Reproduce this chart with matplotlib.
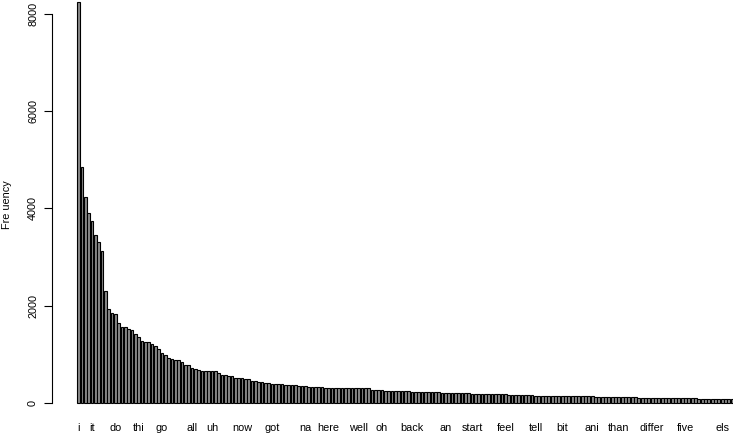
import matplotlib
matplotlib.use("Agg")
import matplotlib.pyplot as plt

plt.rcParams['font.family'] = ['Liberation Sans', 'DejaVu Sans']

# word frequencies, sorted (rightmost bars are cut off)
freq = [8240, 4860, 4230, 3910, 3740, 3450, 3310, 3120, 2300, 1930,
        1845, 1825, 1650, 1560, 1555, 1515, 1510, 1410, 1350, 1275,
        1260, 1245, 1210, 1165, 1115, 1035, 995, 930, 900, 885,
        880, 845, 780, 775, 720, 705, 680, 665, 662, 658,
        655, 650, 618, 582, 570, 562, 558, 515, 508, 504,
        497, 490, 452, 446, 440, 437, 405, 402, 398, 396,
        393, 390, 365, 363, 362, 360, 358, 342, 340, 338,
        336, 334, 320, 319, 318, 317, 316, 315, 314, 313,
        312, 304, 303, 302, 301, 300, 299, 298, 276, 274,
        272, 270, 250, 248, 247, 246, 245, 244, 243, 242,
        228, 227, 226, 225, 224, 223, 218, 217, 216, 215,
        214, 213, 201, 200, 199, 198, 197, 196, 195, 185,
        183, 182, 181, 180, 179, 178, 177, 176, 175, 172,
        171, 170, 169, 168, 167, 166, 165, 152, 151, 150,
        149, 148, 147, 146, 145, 144, 143, 142, 141, 140,
        138, 137, 136, 135, 134, 133, 132, 131, 130, 128,
        127, 126, 125, 124, 123, 122, 121, 120, 112, 111,
        110, 109, 109, 108, 108, 107, 106, 106, 105, 105,
        104, 104, 94, 94, 93, 93, 92, 91, 91, 90,
        89, 89, 88, 87, 86, 86, 85]

# labels that R managed to print (bar number -> word)
label_bars = [1, 5, 12, 19, 26, 35, 41, 50, 59, 69, 76, 85, 92,
              101, 111, 119, 129, 138, 146, 155, 163, 173, 183, 194]
label_words = ['i', 'it', 'do', 'thi', 'go', 'all', 'uh', 'now', 'got',
               'na', 'here', 'well', 'oh', 'back', 'an', 'start', 'feel',
               'tell', 'bit', 'ani', 'than', 'differ', 'five', 'els']

yticks = [0, 2000, 4000, 6000, 8000]

W, H = 733, 434
fig = plt.figure(figsize=(W / 100, H / 100), dpi=100)
ax = fig.add_axes([52 / W, (H - 419) / H, (W - 52) / W, 419 / H])

# barplot style: space 0.2, width 1
xs = [0.7 + 1.2 * i for i in range(len(freq))]
ax.bar(xs, freq, width=1.0, color='#8a8a8a', edgecolor='black', linewidth=0.8)

ax.set_xlim(-8.89, 236.2)
ax.set_ylim(-329, 8282)

for s in ['top', 'right', 'bottom']:
    ax.spines[s].set_visible(False)
ax.spines['left'].set_bounds(0, 8000)
ax.spines['left'].set_linewidth(0.8)

ax.set_yticks(yticks)
ax.set_yticklabels([str(v) for v in yticks], rotation=90, va='center')
ax.tick_params(axis='y', length=5.5, width=0.8, pad=4.5, labelsize=7.8)

ax.set_xticks([xs[b - 1] for b in label_bars])
ax.set_xticklabels(label_words)
ax.tick_params(axis='x', length=0, pad=3, labelsize=7.8)

fig.text(7 / W, 1 - 204.5 / H, 'Fre uency', rotation=90,
         ha='center', va='center', fontsize=7.8)

fig.savefig('out.png', dpi=100)
